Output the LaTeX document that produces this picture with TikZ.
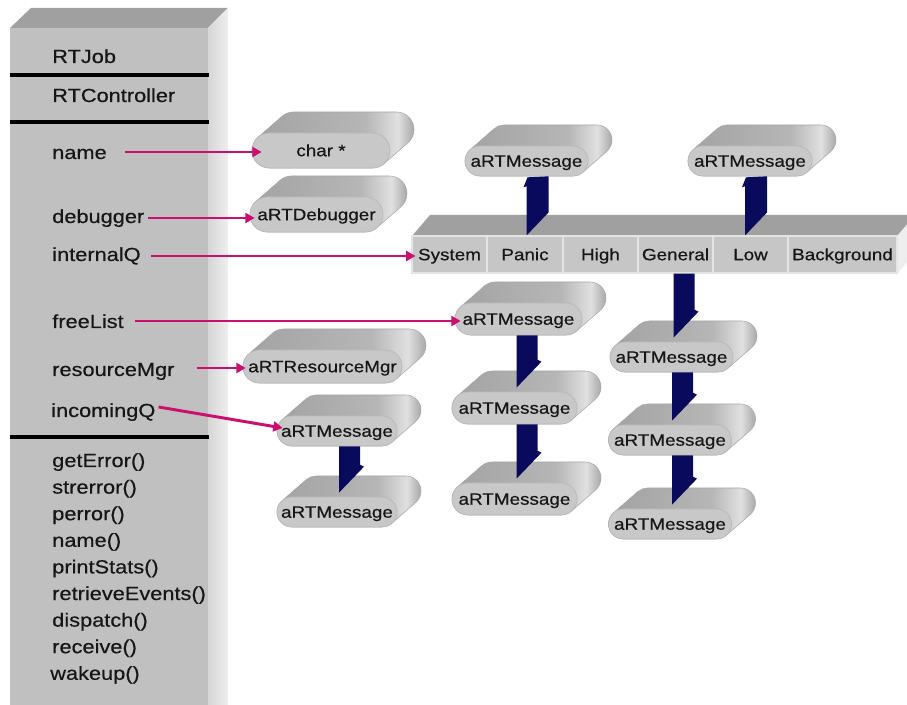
\documentclass[tikz,border=0pt]{standalone}
\usepackage{fontspec}
\setmainfont{Liberation Sans}[FakeStretch=1.15, FakeBold=0.5]
\usetikzlibrary{calc,arrows.meta}

\definecolor{boxfront}{HTML}{C0C0C0}
\definecolor{boxtop}{HTML}{A0A0A0}
\definecolor{boxsideA}{HTML}{D6D6D6}
\definecolor{boxsideB}{HTML}{EEEEEE}
\definecolor{msgfront}{HTML}{C8C8C8}
\definecolor{msgedge}{HTML}{B8B8B8}
\definecolor{bodydark}{HTML}{A2A2A2}
\definecolor{bodymid}{HTML}{B6B6B6}
\definecolor{bodylight}{HTML}{E0E0E0}
\definecolor{bodyrim}{HTML}{A8A8A8}
\definecolor{linkpink}{HTML}{CC0F6E}
\definecolor{navy}{HTML}{0A0A5C}
\definecolor{cellfill}{HTML}{C6C6C6}
\definecolor{celldiv}{HTML}{E4E4E4}
\definecolor{txt}{HTML}{161616}

% body of a message cylinder, lit from the right
\pgfdeclarehorizontalshading{cylbody}{100bp}{color(0bp)=(bodydark); color(25bp)=(bodydark);
  color(60bp)=(bodymid); color(70bp)=(bodylight); color(75bp)=(bodyrim); color(100bp)=(bodyrim)}

\tikzset{
  lbl/.style={anchor=base west, inner sep=0pt, text=txt, font=\fontsize{14.2}{16}\selectfont},
  msgface/.style={rectangle, fill=msgfront, draw=msgedge, line width=0.5pt, inner sep=0pt,
    text height=10.9pt, text depth=2.3pt, text=txt, font=\fontsize{12.3}{14}\selectfont},
  cell/.style={rectangle, fill=cellfill, draw=celldiv, line width=0.8pt, inner sep=0pt,
    minimum height=27.75pt, text height=10.9pt, text depth=2.3pt,
    text=txt, font=\fontsize{12.3}{14}\selectfont},
  pinkarr/.style={draw=linkpink, line width=2.2pt, -{Triangle[length=7pt,width=7.5pt]}},
  sepline/.style={draw=black, line width=2.3pt},
}

% extrusion offset of the cylinders (px)
\def\cylDX{24}
\def\cylDY{-21}

% #1 name, #2 x, #3 y, #4 front width, #5 front height, #6 text
\newcommand\msgcyl[6]{%
  \pgfmathsetmacro\cylA{#4/2}\pgfmathsetmacro\cylR{#5/2}%
  \shadedraw[shading=cylbody, draw=bodyrim, line width=0.4pt, shift={(#2,#3)}]
    (-\cylA+\cylR,\cylR) arc[start angle=90, end angle=229, radius=\cylR]
    -- ++(\cylDX,\cylDY) arc[start angle=229, end angle=270, radius=\cylR]
    -- (\cylA-\cylR+\cylDX,-\cylR+\cylDY) arc[start angle=270, end angle=409, radius=\cylR]
    -- ++(-\cylDX,-\cylDY) arc[start angle=49, end angle=90, radius=\cylR] -- cycle;
  \node[msgface, minimum width={#4*0.75pt}, minimum height={#5*0.75pt},
        rounded corners={#5*0.374pt}] (#1) at (#2,#3) {#6};}

% link pointing down from node #1 to node #2
\newcommand\downlink[2]{%
  \fill[navy] ($(#2.north |- #1.south)+(2,0)$) -- ($(#2.north |- #1.south)+(23,0)$)
    -- ($(#2.north)+(23,-32)$) -- ($(#2.north)+(27,-30)$) -- ($(#2.north)+(2,-4)$) -- cycle;}

% link pointing up from cell #1 to node #2, shaft shifted by #3
\newcommand\uplink[3]{%
  \fill[navy] ($(#2.south |- #1.north)+(#3,0)$) -- ($(#2.south)+(#3,10)$)
    -- ($(#2.south)+(#3-3,11)$) -- ($(#2.south)+(#3+1,1)$) -- ($(#2.south)+(#3+22,0)$)
    -- ($(#2.south |- #1.north)+(#3+22,-23)$) -- cycle;}

\begin{document}
\begin{tikzpicture}[x=0.75pt, y=-0.75pt]
\useasboundingbox (0,0) rectangle (907,705);
\fill[white] (0,0) rectangle (907,705);

% ---- the RTJob class block ----
\fill[boxfront] (10,28) rectangle (208,705);
\fill[boxtop] (10,28) -- (31,8) -- (228,8) -- (208,28) -- cycle;
\shade[left color=boxsideA, right color=boxsideB] (208,28) -- (228,8) -- (228,705) -- (208,705) -- cycle;
\draw[sepline] (10,75) -- (209,75);
\draw[sepline] (10,122) -- (209,122);
\draw[sepline] (10,437) -- (209,437);

\node[lbl] (ljob) at (52,63) {RTJob};
\node[lbl] (lctl) at (52,102) {RTController};
\node[lbl] (lname) at (52,159) {name};
\node[lbl] (ldbg) at (52,223) {debugger};
\node[lbl] (lintq) at (52,261) {internalQ};
\node[lbl] (lfree) at (52,328) {freeList};
\node[lbl] (lres) at (52,376) {resourceMgr};
\node[lbl] (linc) at (51,417) {incomingQ};

\node[lbl] (m1) at (52,467) {getError()};
\node[lbl] (m2) at (52,493.6) {strerror()};
\node[lbl] (m3) at (52,520.2) {perror()};
\node[lbl] (m4) at (52,546.8) {name()};
\node[lbl] (m5) at (52,573.4) {printStats()};
\node[lbl] (m6) at (52,600) {retrieveEvents()};
\node[lbl] (m7) at (52,626.6) {dispatch()};
\node[lbl] (m8) at (52,653.2) {receive()};
\node[lbl] (m9) at (50,679.8) {wakeup()};

% ---- priority queue bar ----
\fill[boxtop] (412,236) -- (430,215) -- (925,215) -- (907,236) -- cycle;
\node[cell, minimum width=56.25pt] (qsys) at (449.5,254.5) {System};
\node[cell, minimum width=57pt] (qpanic) at (525,254.5) {Panic};
\node[cell, minimum width=56.25pt] (qhigh) at (600.5,254.5) {High};
\node[cell, minimum width=56.25pt] (qgen) at (675.5,254.5) {General};
\node[cell, minimum width=56.25pt] (qlow) at (750.5,254.5) {Low};
\node[cell, minimum width=81.75pt] (qbg) at (842.5,254.5) {Background};
\fill[boxsideB] (qbg.north east) -- ++(18,-21) -- ++(0,37) -- (qbg.south east) -- cycle;

% ---- objects ----
\msgcyl{charp}{321}{150.5}{138}{35}{char *}
\msgcyl{dbg}{316.5}{214.5}{133}{35}{aRTDebugger}
\msgcyl{tl}{526.5}{161}{123}{30}{aRTMessage}
\msgcyl{tr}{750}{161}{124}{30}{aRTMessage}
\msgcyl{fl1}{518.5}{319}{127}{32}{aRTMessage}
\msgcyl{fl2}{514.5}{408}{125}{32}{aRTMessage}
\msgcyl{fl3}{514.5}{499}{125}{32}{aRTMessage}
\msgcyl{g1}{671.5}{357}{123}{30}{aRTMessage}
\msgcyl{g2}{670}{440}{123}{30}{aRTMessage}
\msgcyl{g3}{670}{524}{123}{30}{aRTMessage}
\msgcyl{resmgr}{322.5}{366.5}{159}{33}{aRTResourceMgr}
\msgcyl{inc1}{337}{431}{120}{30}{aRTMessage}
\msgcyl{inc2}{337}{512}{120}{30}{aRTMessage}

% ---- queue links ----
\uplink{qpanic}{tl}{0}
\uplink{qlow}{tr}{-5}
\downlink{qgen}{g1}
\downlink{g1}{g2}
\downlink{g2}{g3}
\downlink{fl1}{fl2}
\downlink{fl2}{fl3}
\downlink{inc1}{inc2}

% ---- member pointers ----
\coordinate (sname) at ($(lname.base east)+(18,-7)$);
\coordinate (sdbg) at ($(ldbg.base east)+(3,-5)$);
\coordinate (sintq) at ($(lintq.base east)+(10,-5)$);
\coordinate (sfree) at ($(lfree.base east)+(11,-7)$);
\coordinate (sres) at ($(lres.base east)+(22,-8)$);
\coordinate (sinc) at ($(linc.base east)+(3,-10)$);
\draw[pinkarr] (sname) -- ($(sname -| charp.west)+(10,0)$);
\draw[pinkarr] (sdbg) -- ($(sdbg -| dbg.west)+(5,0)$);
\draw[pinkarr] (sintq) -- ($(sintq -| qsys.west)+(4,0)$);
\draw[pinkarr] (sfree) -- ($(sfree -| fl1.west)+(6,0)$);
\draw[pinkarr] (sres) -- ($(sres -| resmgr.west)+(3,0)$);
\draw[pinkarr] (sinc) -- ($(inc1.west)+(6,-3)$);
\end{tikzpicture}
\end{document}
